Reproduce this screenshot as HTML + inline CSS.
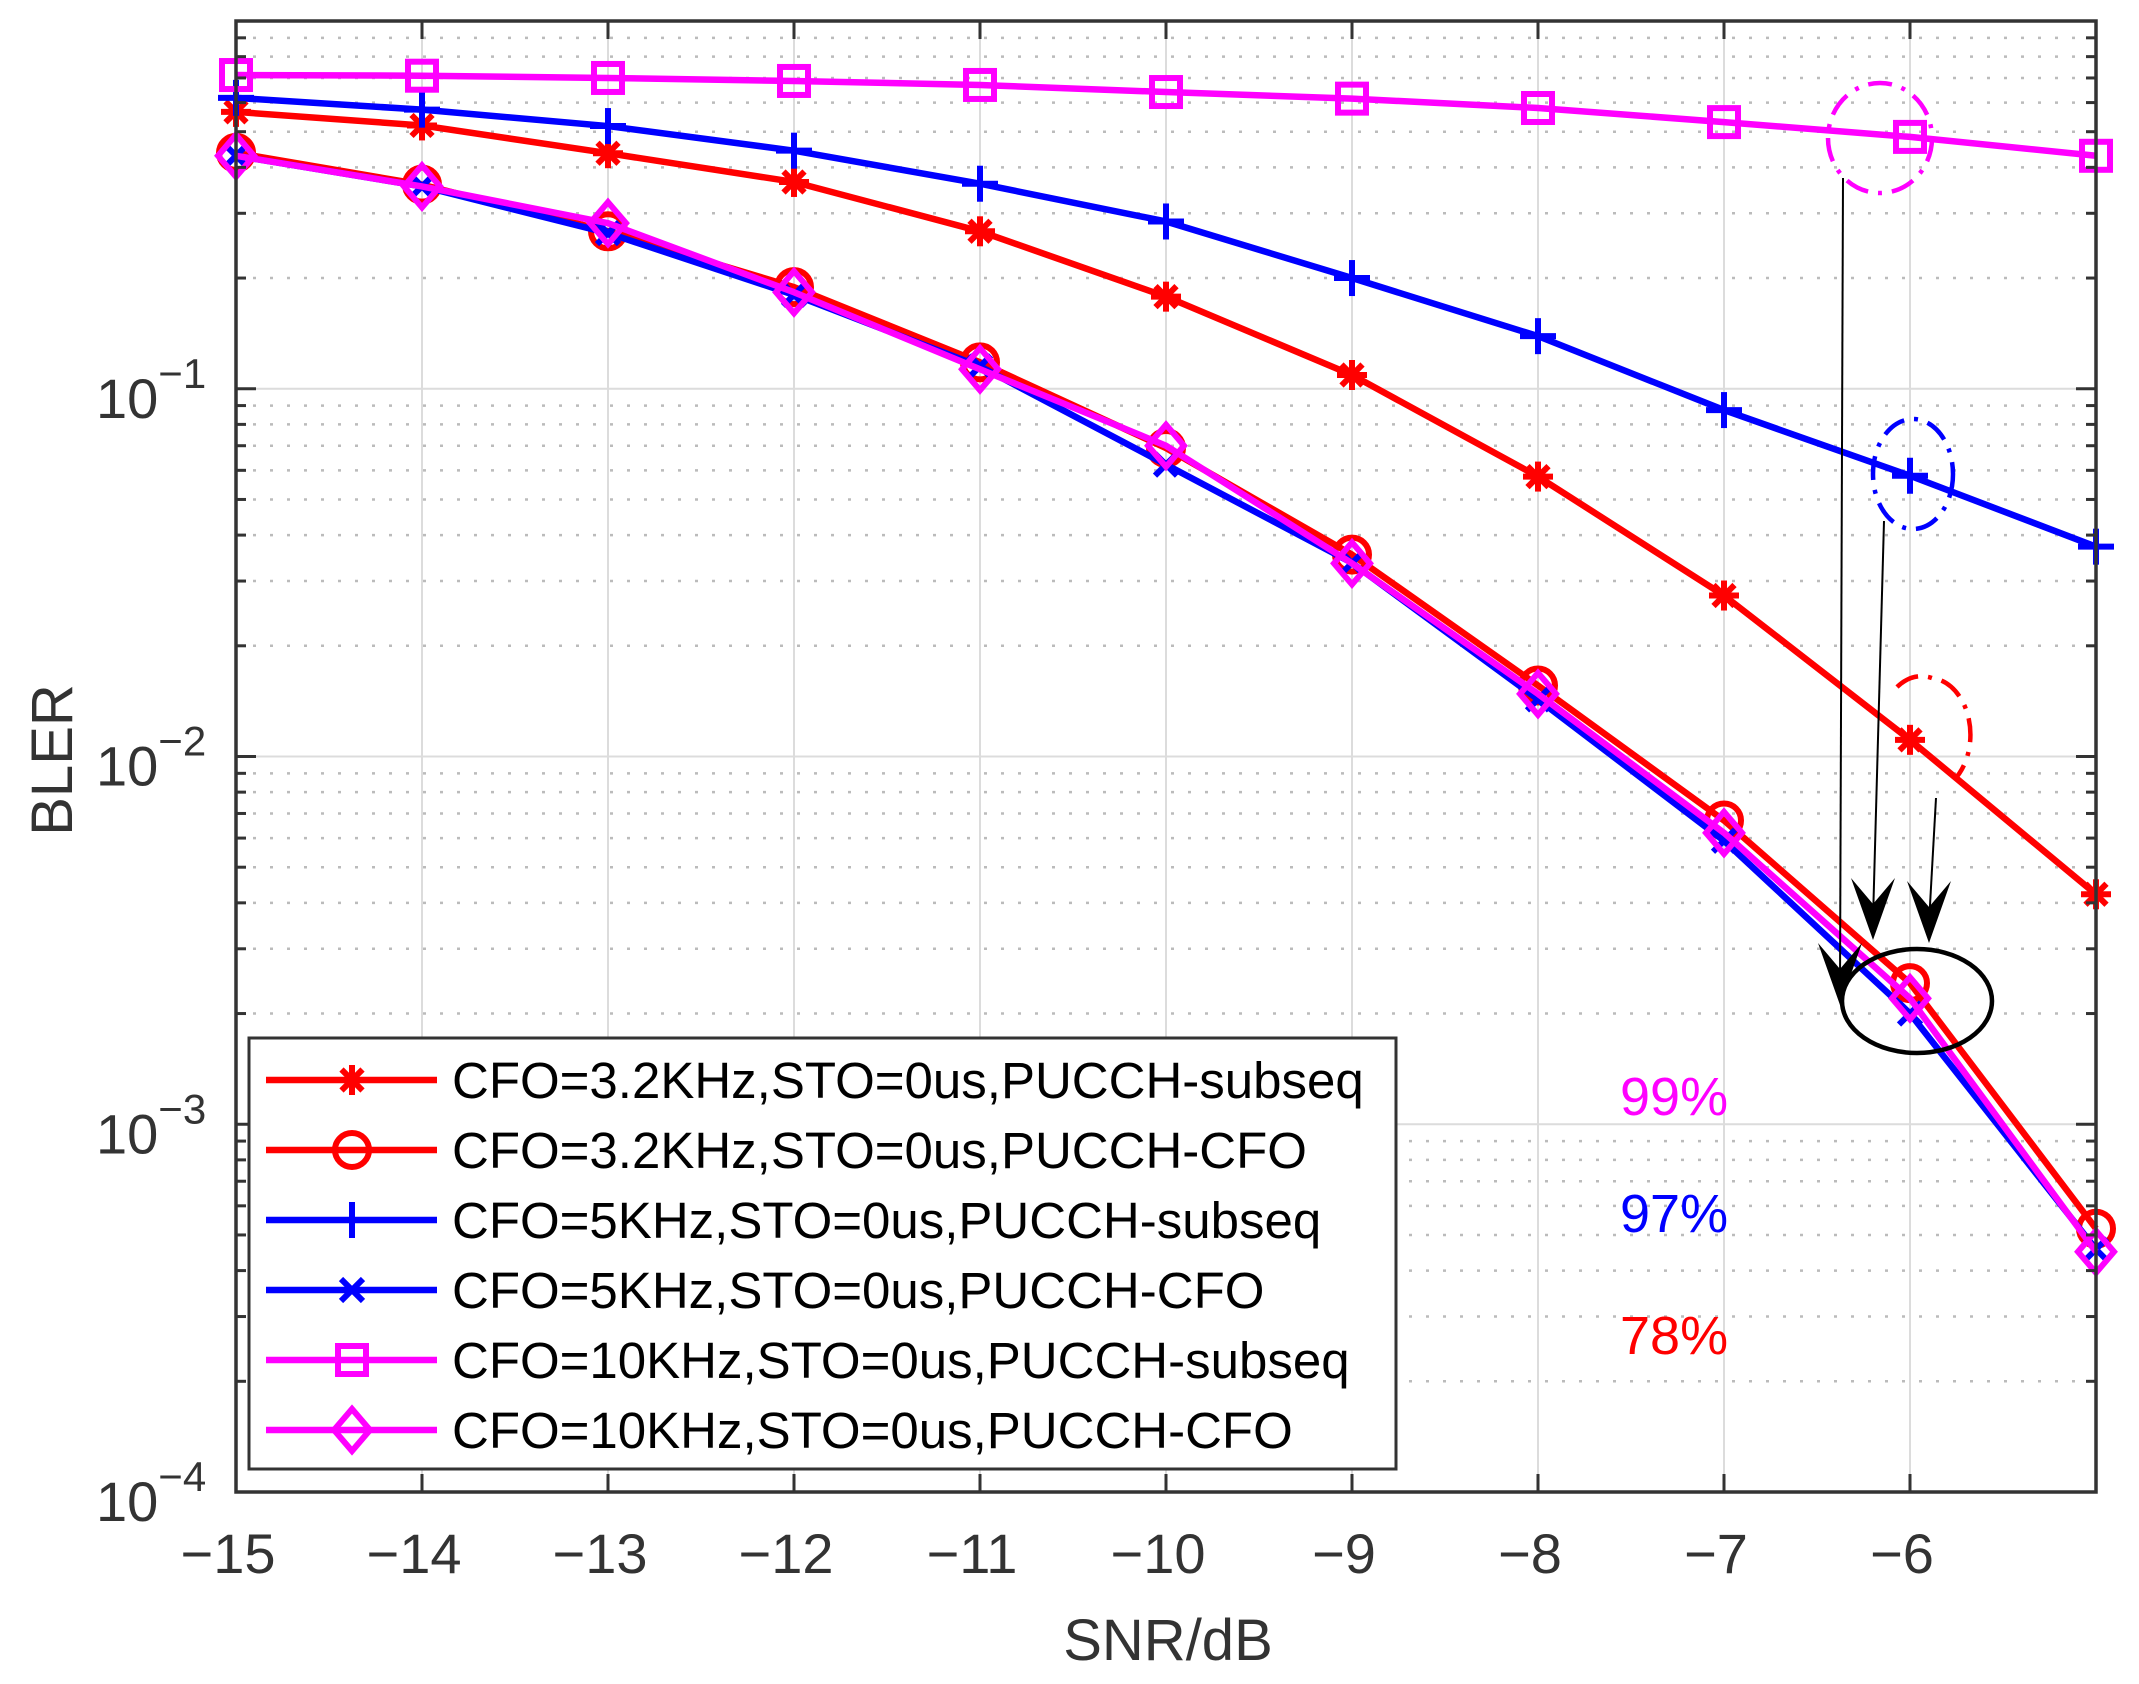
<!DOCTYPE html>
<html><head><meta charset="utf-8"><style>
html,body{margin:0;padding:0;background:#fff;}
svg{display:block;font-family:"Liberation Sans",Arial,sans-serif;}
</style></head><body>
<svg id="chart" width="2139" height="1684" viewBox="0 0 2139 1684" xmlns="http://www.w3.org/2000/svg">
<g id="grid"></g>
<g id="series"></g>
<g id="axes"></g>
<g id="annot" transform="translate(-8,0)"></g>
<g id="legend"></g>
</svg>
<script>
const snr = [-15,-14,-13,-12,-11,-10,-9,-8,-7,-6,-5];
const xTicks = [-15,-14,-13,-12,-11,-10,-9,-8,-7,-6];
const yDecades = [-4,-3,-2,-1,0];
const star32 = [0.566,0.52,0.437,0.365,0.268,0.178,0.109,0.0577,0.0274,0.0111,0.00422];
const circ32 = [0.438,0.359,0.268,0.189,0.118,0.069,0.0354,0.0156,0.0067,0.00242,0.00052];
const plus5 = [0.618,0.574,0.518,0.444,0.361,0.285,0.2,0.139,0.0875,0.058,0.0372];
const x5 = [0.43,0.355,0.265,0.18,0.115,0.0622,0.0336,0.0143,0.0059,0.002,0.000457];
const sq10 = [0.713,0.71,0.70,0.687,0.67,0.641,0.615,0.58,0.531,0.484,0.43];
const dia10 = [0.43,0.355,0.282,0.183,0.113,0.07,0.0335,0.0148,0.0062,0.0022,0.00045];
const legendLabels = ["CFO=3.2KHz,STO=0us,PUCCH-subseq","CFO=3.2KHz,STO=0us,PUCCH-CFO","CFO=5KHz,STO=0us,PUCCH-subseq","CFO=5KHz,STO=0us,PUCCH-CFO","CFO=10KHz,STO=0us,PUCCH-subseq","CFO=10KHz,STO=0us,PUCCH-CFO"];

const L=236,R=2096,T=21,B=1492;
const NS="http://www.w3.org/2000/svg";
const X=v=>L+(v+15)*(R-L)/10;
const Y=v=>T+(0-Math.log10(v))*(B-T)/4;
function mk(tag,attrs,parent){const e=document.createElementNS(NS,tag);for(const k in attrs)e.setAttribute(k,attrs[k]);parent.appendChild(e);return e;}
const grid=document.getElementById('grid'),ser=document.getElementById('series'),axes=document.getElementById('axes'),ann=document.getElementById('annot'),leg=document.getElementById('legend');

for(const t of xTicks){const g=mk('line',{x1:X(t),x2:X(t),y1:T,y2:B,stroke:'#dcdcdc','stroke-width':2},grid);}
for(const d of yDecades){
  const yy=T+(0-d)*(B-T)/4;
  if(d<0){const g=mk('line',{x1:L,x2:R,y1:yy,y2:yy,stroke:'#dcdcdc','stroke-width':2},grid);}
  if(d<0){for(let m=2;m<=9;m++){const v=m*Math.pow(10,d);const ym=Y(v);
    const g=mk('line',{x1:L,x2:R,y1:ym,y2:ym,stroke:'#bbbbbb','stroke-width':2.5,'stroke-dasharray':'3 14'},grid);
    mk('line',{x1:L,x2:L+10,y1:ym,y2:ym,stroke:'#333','stroke-width':3},axes);
    mk('line',{x1:R,x2:R-10,y1:ym,y2:ym,stroke:'#333','stroke-width':3},axes);}}
}
function marker(type,x,y,color,parent){
  const s=15,a={stroke:color,'stroke-width':6,fill:'none'};
  let m;
  if(type==='star'){m=mk('g',a,parent);
    mk('line',{x1:x-s,x2:x+s,y1:y,y2:y},m);mk('line',{x1:x,x2:x,y1:y-s,y2:y+s},m);
    mk('line',{x1:x-s*.7,x2:x+s*.7,y1:y-s*.7,y2:y+s*.7},m);mk('line',{x1:x-s*.7,x2:x+s*.7,y1:y+s*.7,y2:y-s*.7},m);}
  else if(type==='circle'){m=mk('circle',Object.assign({cx:x,cy:y,r:17},a),parent);}
  else if(type==='plus'){m=mk('g',a,parent);mk('line',{x1:x-18,x2:x+18,y1:y,y2:y},m);mk('line',{x1:x,x2:x,y1:y-18,y2:y+18},m);}
  else if(type==='x'){m=mk('g',a,parent);mk('line',{x1:x-11,x2:x+11,y1:y-11,y2:y+11},m);mk('line',{x1:x-11,x2:x+11,y1:y+11,y2:y-11},m);}
  else if(type==='square'){m=mk('rect',Object.assign({x:x-14,y:y-14,width:28,height:28},a),parent);}
  else if(type==='diamond'){m=mk('polygon',Object.assign({points:`${x},${y-21} ${x+18},${y} ${x},${y+21} ${x-18},${y}`},a),parent);}
  return m;
}
const seriesDefs=[[star32,'#ff0000','star','cfo32-subseq'],[circ32,'#ff0000','circle','cfo32-cfo'],[plus5,'#0000ff','plus','cfo5-subseq'],[x5,'#0000ff','x','cfo5-cfo'],[sq10,'#ff00ff','square','cfo10-subseq'],[dia10,'#ff00ff','diamond','cfo10-cfo']];
for(const [vals,col,mt,name] of seriesDefs){
  const g=mk('g',{},ser);
  
  
  const pts=vals.map((v,i)=>X(snr[i])+','+Y(v)).join(' ');
  mk('polyline',{points:pts,fill:'none',stroke:col,'stroke-width':6.5,'stroke-linejoin':'round'},g);
  vals.forEach((v,i)=>{const m=marker(mt,X(snr[i]),Y(v),col,g);});
}
const box=mk('rect',{x:L,y:T,width:R-L,height:B-T,fill:'none',stroke:'#333','stroke-width':3.5},axes);

for(const t of xTicks){
  mk('line',{x1:X(t),x2:X(t),y1:B,y2:B-18,stroke:'#333','stroke-width':3},axes);
  mk('line',{x1:X(t),x2:X(t),y1:T,y2:T+18,stroke:'#333','stroke-width':3},axes);
  const tx=mk('text',{x:X(t)-8,y:1573,'font-size':56,fill:'#333','text-anchor':'middle'},axes);
  tx.textContent='\u2212'+Math.abs(t);
  
}
for(const d of yDecades){
  if(d===0)continue;
  const yy=T+(0-d)*(B-T)/4;
  mk('line',{x1:L,x2:L+20,y1:yy,y2:yy,stroke:'#333','stroke-width':3},axes);
  mk('line',{x1:R,x2:R-20,y1:yy,y2:yy,stroke:'#333','stroke-width':3},axes);
  const tx=mk('text',{x:96,y:yy+29,'font-size':56,fill:'#333'},axes);
  
  tx.innerHTML='10<tspan dy="-30" font-size="42">\u2212'+Math.abs(d)+'</tspan>';
}
const xt=mk('text',{x:1168,y:1660,'font-size':58,fill:'#333','text-anchor':'middle'},axes);xt.textContent='SNR/dB';

const yt=mk('text',{x:0,y:0,'font-size':58,fill:'#333','text-anchor':'middle',transform:'translate(72,760) rotate(-90)'},axes);yt.textContent='BLER';


function ell(cx,cy,rx,ry,col,dash,name){const e=mk('ellipse',{cx,cy,rx,ry,fill:'none',stroke:col,'stroke-width':4.5,'stroke-dasharray':dash},ann);}
ell(1888,138,52,55,'#ff00ff','24 10 4 10','magenta-dashdot-ellipse');
ell(1921,474,40,55,'#0000ff','24 10 4 10','blue-dashdot-ellipse');
const ra=mk('path',{d:'M1905,687 A42,57 0 0 1 1940,678 A42,57 0 0 1 1962,780',fill:'none',stroke:'#ff0000','stroke-width':4.5,'stroke-dasharray':'24 10 4 10'},ann);

ell(1925,1001,75,52,'#000','none','black-ellipse');
function arrow(x1,y1,x2,y2,name){const g=mk('g',{},ann);
  mk('line',{x1,y1,x2,y2:y2-20,stroke:'#000','stroke-width':2},g);
  mk('polygon',{points:`${x2},${y2} ${x2-22},${y2-62} ${x2},${y2-36} ${x2+22},${y2-62}`,fill:'#000'},g);}
arrow(1851,178,1848,1005,'arrow-magenta');
arrow(1892,521,1881,940,'arrow-blue');
arrow(1944,798,1937,943,'arrow-red');
const pcts=[['99%','#ff00ff',1115],['97%','#0000ff',1232],['78%','#ff0000',1354]];
for(const [t,c,y] of pcts){const tx=mk('text',{x:1628,y,'font-size':54,fill:c},ann);tx.textContent=t;}

const lb=mk('rect',{x:249,y:1038,width:1147,height:431,fill:'#fff',stroke:'#333','stroke-width':3},leg);

const rowsY=[1080,1150,1220,1290,1360,1430];
seriesDefs.forEach((s,i)=>{
  const g=mk('g',{},leg);
  
  
  const y=rowsY[i];
  mk('line',{x1:266,x2:437,y1:y,y2:y,stroke:s[1],'stroke-width':6.5},g);
  marker(s[2],352,y,s[1],g);
  const tx=mk('text',{x:452,y:y+18,'font-size':51,fill:'#000'},g);tx.textContent=legendLabels[i];
});
</script>
</body></html>
